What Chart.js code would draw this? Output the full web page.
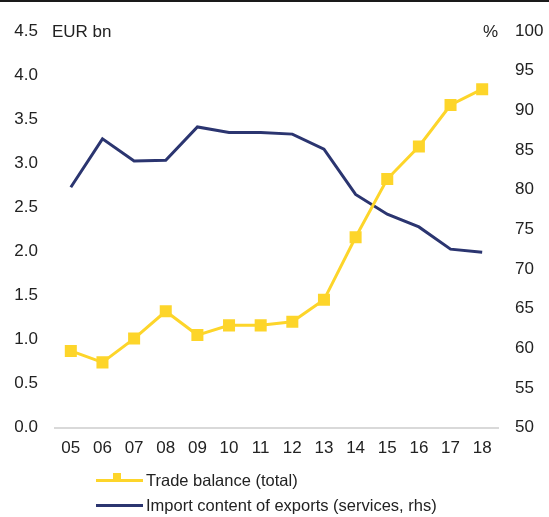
<!DOCTYPE html>
<html lang="en">
<head>
<meta charset="UTF-8">
<title>Trade balance and import content of exports</title>
<script src="https://cdn.jsdelivr.net/npm/chart.js"></script>
<style>
  body { margin: 0; background: #fff; font-family: "Liberation Sans", Arial, sans-serif; }
  .page { position: relative; width: 549px; height: 517px; overflow: hidden; }
  .topline { position: absolute; top: 0; left: 0; width: 549px; height: 2px; background: #1a1a1a; }
  .chart-box { position: absolute; top: 0; left: 0; width: 549px; height: 470px; }
  .legend { position: absolute; left: 96px; top: 468px; font-size: 16.5px; color: #222; }
  .legend .item { position: relative; height: 25px; line-height: 25px; padding-left: 50px; white-space: nowrap; }
  .legend .swatch { position: absolute; left: 0; top: 11px; width: 47px; height: 3px; }
  .legend .mark { position: absolute; left: 17px; top: -6px; width: 8px; height: 7px; }
</style>
</head>
<body>
<div class="page">
  <div class="chart-box"><canvas id="chart"></canvas></div>
  <div class="topline"></div>
  <div class="legend" id="legend"></div>
</div>
<script>
// Data
const years = ['05', '06', '07', '08', '09', '10', '11', '12', '13', '14', '15', '16', '17', '18'];
const tradeBalance = [0.87, 0.74, 1.01, 1.32, 1.05, 1.16, 1.16, 1.2, 1.45, 2.16, 2.82, 3.19, 3.66, 3.84];
const importContent = [80.3, 86.4, 83.6, 83.7, 87.9, 87.2, 87.2, 87.0, 85.1, 79.4, 76.9, 75.3, 72.5, 72.1];
const seriesNames = ['Trade balance (total)', 'Import content of exports (services, rhs)'];
const leftUnit = 'EUR bn';
const rightUnit = '%';

const YELLOW = '#fdd52a';
const NAVY = '#2b3570';
const TEXT = '#222';
const FONT = '"Liberation Sans", Arial, sans-serif';

// unit labels at the top of each axis
const unitLabels = {
  id: 'unitLabels',
  afterDraw(chart) {
    const { ctx, chartArea } = chart;
    ctx.save();
    ctx.fillStyle = TEXT;
    ctx.font = '17px ' + FONT;
    ctx.textBaseline = 'middle';
    ctx.textAlign = 'left';
    ctx.fillText(leftUnit, chartArea.left - 3, chartArea.top + 1);
    ctx.textAlign = 'right';
    ctx.fillText(rightUnit, chartArea.right, chartArea.top + 1);
    ctx.restore();
  }
};

new Chart(document.getElementById('chart'), {
  type: 'line',
  data: {
    labels: years,
    datasets: [
      {
        label: seriesNames[0],
        data: tradeBalance,
        yAxisID: 'y',
        borderColor: YELLOW,
        backgroundColor: YELLOW,
        borderWidth: 3,
        pointStyle: 'rect',
        pointRadius: 8.5,
        pointHoverRadius: 8.5,
        pointBorderWidth: 0,
        tension: 0,
        order: 1
      },
      {
        label: seriesNames[1],
        data: importContent,
        yAxisID: 'y1',
        borderColor: NAVY,
        backgroundColor: NAVY,
        borderWidth: 3,
        pointRadius: 0,
        tension: 0,
        order: 2
      }
    ]
  },
  options: {
    responsive: true,
    maintainAspectRatio: false,
    animation: false,
    layout: { padding: { top: 31, bottom: 0, left: 0, right: 0 } },
    plugins: {
      legend: { display: false },
      tooltip: { enabled: false }
    },
    scales: {
      x: {
        offset: true,
        grid: { display: false, drawTicks: false },
        border: { display: true, color: '#d9d9d9', width: 2 },
        ticks: { color: TEXT, font: { size: 17, family: FONT }, padding: 11, maxRotation: 0, autoSkip: false }
      },
      y: {
        position: 'left',
        min: 0,
        max: 4.5,
        grid: { display: false, drawTicks: false },
        border: { display: false },
        ticks: {
          stepSize: 0.5,
          color: TEXT,
          padding: 17,
          font: { size: 17, family: FONT },
          callback: (v) => v.toFixed(1)
        },
        afterFit(scale) { scale.width = 55; }
      },
      y1: {
        position: 'right',
        min: 50,
        max: 100,
        grid: { display: false, drawTicks: false },
        border: { display: false },
        ticks: {
          stepSize: 5,
          color: TEXT,
          padding: 17,
          font: { size: 17, family: FONT }
        },
        afterFit(scale) { scale.width = 51; }
      }
    }
  },
  plugins: [unitLabels]
});

// legend below the chart
const legendColors = [YELLOW, NAVY];
document.getElementById('legend').innerHTML = seriesNames.map((name, i) => `
  <div class="item">
    <span class="swatch" style="background:${legendColors[i]}">
      ${i === 0 ? `<span class="mark" style="background:${YELLOW}"></span>` : ''}
    </span>${name}
  </div>`).join('');
</script>
</body>
</html>
